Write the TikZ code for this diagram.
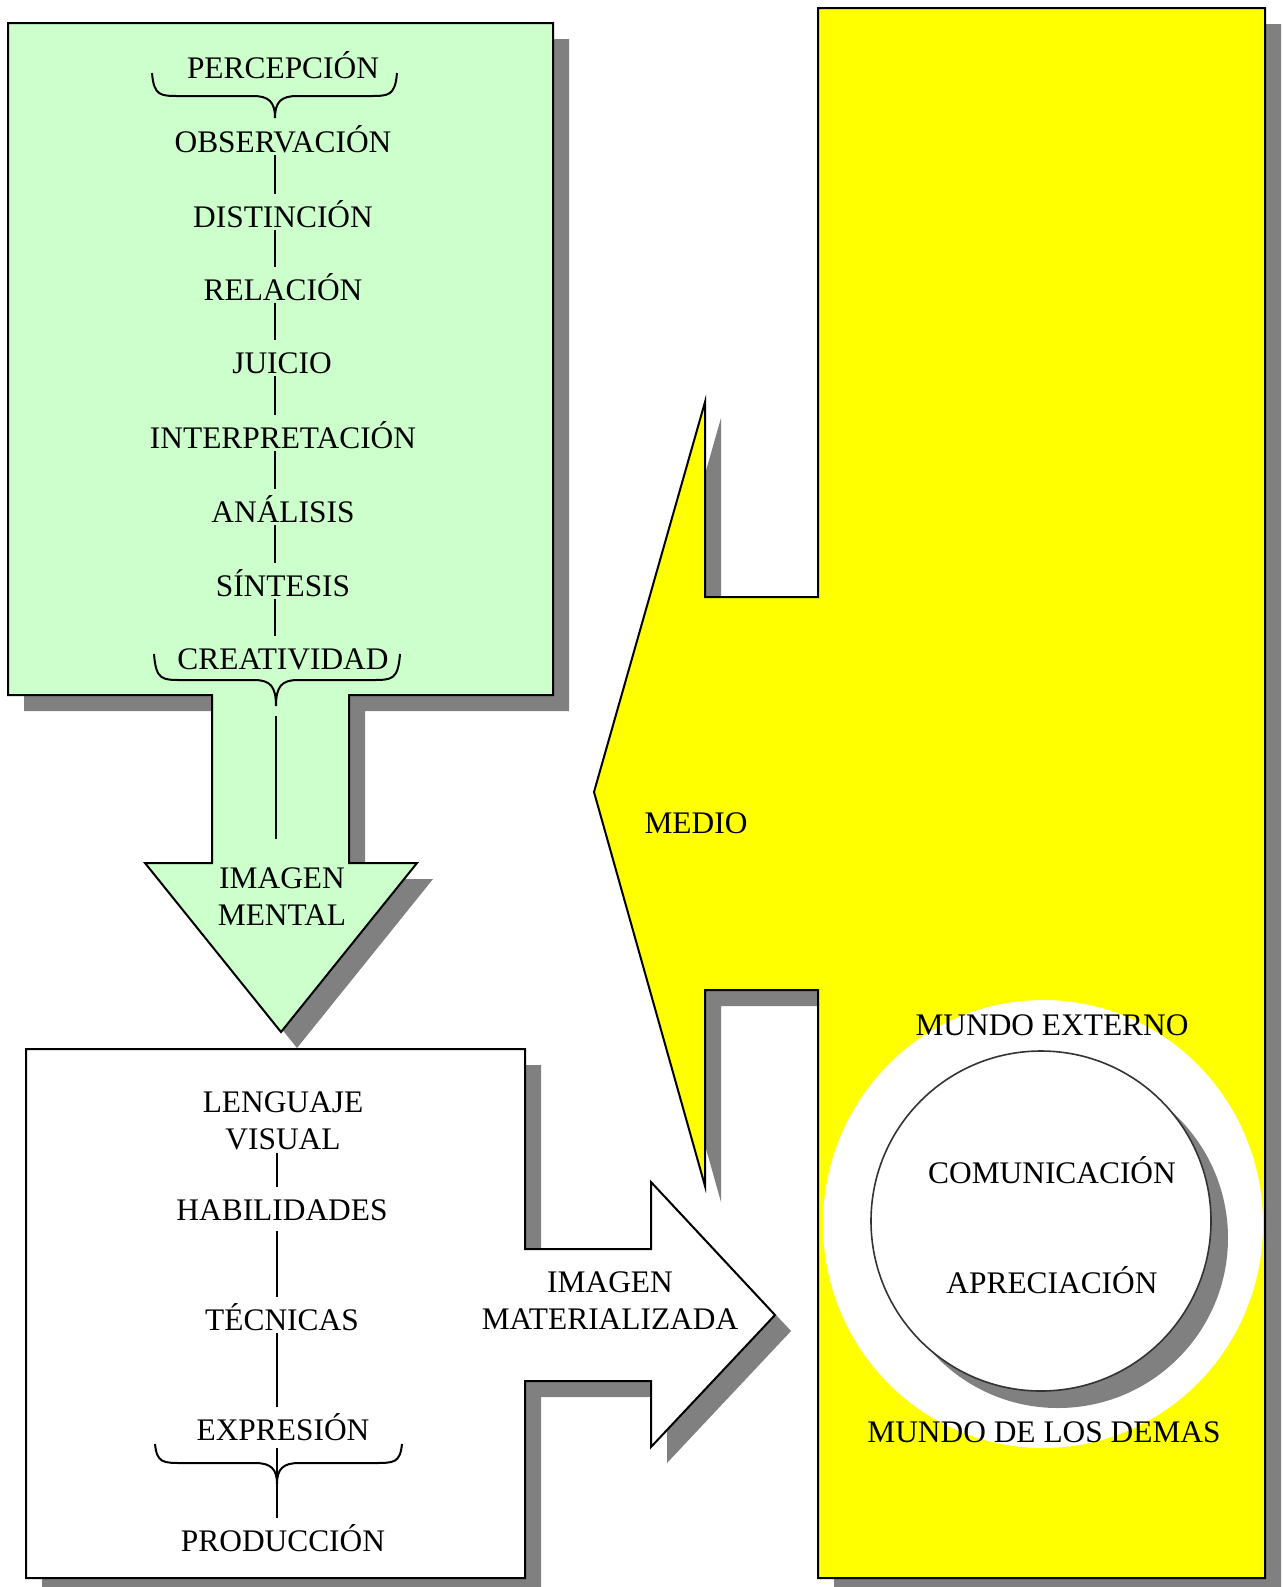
\documentclass[tikz,border=0pt]{standalone}
\usepackage{fontspec}
\setmainfont{Liberation Serif}
\definecolor{greenfill}{HTML}{CCFFCC}
\definecolor{yellowfill}{HTML}{FFFF00}
\definecolor{shadowgray}{HTML}{808080}
\definecolor{circedge}{HTML}{333333}
\newcommand\lblfont{\fontsize{15.7pt}{18.5pt}\selectfont}
\tikzset{
  outline/.style={draw=black, line width=1pt, line join=miter},
  shadowfill/.style={fill=shadowgray, draw=none},
  lbl/.style={font=\lblfont, inner sep=0pt, text height=10.4pt, text depth=0pt},
  ml/.style={font=\lblfont, inner sep=0pt, align=center},
  conn/.style={draw=black, line width=1pt, shorten <=1pt, shorten >=6pt},
  bracestyle/.style={draw=black, line width=1pt},
}
% x1 x2 xm ytop yh ytip
\newcommand\mybrace[6]{%
  \draw[bracestyle] (#1,#4) .. controls (#1+2,#5) and (#1+8,#5) .. (#1+28,#5)
    -- (#3-22,#5) .. controls (#3-6,#5) and (#3,#5+6) .. (#3,#6)
    .. controls (#3,#5+6) and (#3+6,#5) .. (#3+22,#5)
    -- (#2-28,#5) .. controls (#2-8,#5) and (#2-2,#5) .. (#2,#4);}
\newcommand\greenshape[1]{\path[#1] (8,23) -- (553,23) -- (553,695) -- (349,695)
  -- (349,863) -- (417,863) -- (281,1032) -- (145,863) -- (212,863) -- (212,695)
  -- (8,695) -- cycle;}
\newcommand\whiteshape[1]{\path[#1] (26,1049) -- (525,1049) -- (525,1249) -- (651,1249)
  -- (651,1182) -- (775,1315) -- (651,1447) -- (651,1381) -- (525,1381) -- (525,1578)
  -- (26,1578) -- cycle;}
\newcommand\yellowshape[1]{\path[#1] (818,8) -- (1265,8) -- (1265,1578) -- (818,1578)
  -- (818,990) -- (705,990) -- (705,1186) -- (594,792) -- (705,402) -- (705,597)
  -- (818,597) -- cycle;}
\begin{document}
\begin{tikzpicture}[x=0.5pt,y=-0.5pt]
\clip (0,0) rectangle (1282,1587);
\fill[white] (0,0) rectangle (1282,1587);
% shapes
\greenshape{shadowfill, shift={(16,16)}}
\greenshape{outline, fill=greenfill}
\whiteshape{shadowfill, shift={(16,16)}}
\whiteshape{outline, fill=white}
\yellowshape{shadowfill, shift={(16,16)}}
\yellowshape{outline, fill=yellowfill}
\fill[white] (1043,1224) ellipse [x radius=220, y radius=224];
\fill[shadowgray] (1058,1238) circle [radius=170];
\filldraw[fill=white, draw=circedge, line width=0.8pt] (1041,1221) circle [radius=170];
% green box texts
\node[lbl] (perc) at (283,68) {PERCEPCIÓN};
\node[lbl] (obs) at (283,142) {OBSERVACIÓN};
\node[lbl] (dist) at (283,217) {DISTINCIÓN};
\node[lbl] (rel) at (283,290) {RELACIÓN};
\node[lbl] (jui) at (282,363) {JUICIO};
\node[lbl] (inter) at (283,438) {INTERPRETACIÓN};
\node[lbl] (anal) at (283,512) {ANÁLISIS};
\node[lbl] (sint) at (283,586) {SÍNTESIS};
\node[lbl] (crea) at (283,659) {CREATIVIDAD};
\node[ml] (imental) at (282,897) {IMAGEN\\MENTAL};
\coordinate (gx) at (275,0);
\mybrace{152}{397}{275}{73}{96}{118}
\draw[conn] (obs.south -| gx) -- (dist.north -| gx);
\draw[conn] (dist.south -| gx) -- (rel.north -| gx);
\draw[conn] (rel.south -| gx) -- (jui.north -| gx);
\draw[conn] (jui.south -| gx) -- (inter.north -| gx);
\draw[conn] (inter.south -| gx) -- (anal.north -| gx);
\draw[conn] (anal.south -| gx) -- (sint.north -| gx);
\draw[conn] (sint.south -| gx) -- (crea.north -| gx);
\mybrace{154}{400}{276}{654}{680}{706}
\coordinate (ctip) at (276,706);
\draw[conn, shorten <=5pt, shorten >=14.5pt] (ctip) -- (imental.north -| ctip);
% lower box texts
\node[ml] (lv) at (283,1121) {LENGUAJE\\VISUAL};
\node[lbl] (hab) at (282,1210) {HABILIDADES};
\node[lbl] (tec) at (282,1320) {TÉCNICAS};
\node[lbl] (expr) at (283,1430) {EXPRESIÓN};
\node[lbl] (prod) at (283,1541) {PRODUCCIÓN};
\coordinate (wx) at (277,0);
\draw[conn] (lv.south -| wx) -- (hab.north -| wx);
\draw[conn, shorten <=5pt] (hab.south -| wx) -- (tec.north -| wx);
\draw[conn] (tec.south -| wx) -- (expr.north -| wx);
\mybrace{155}{402}{277}{1444}{1463}{1484}
\draw[conn, shorten <=3.5pt] (expr.south -| wx) -- (prod.north -| wx);
\node[ml] (imat) at (610,1301) {IMAGEN\\MATERIALIZADA};
% yellow texts
\node[lbl] (medio) at (696,823) {MEDIO};
\node[lbl] (mext) at (1052,1025) {MUNDO EXTERNO};
\node[lbl] (com) at (1052,1173) {COMUNICACIÓN};
\node[lbl] (apr) at (1052,1283) {APRECIACIÓN};
\node[lbl] (mdem) at (1044,1432) {MUNDO DE LOS DEMAS};
\end{tikzpicture}
\end{document}
